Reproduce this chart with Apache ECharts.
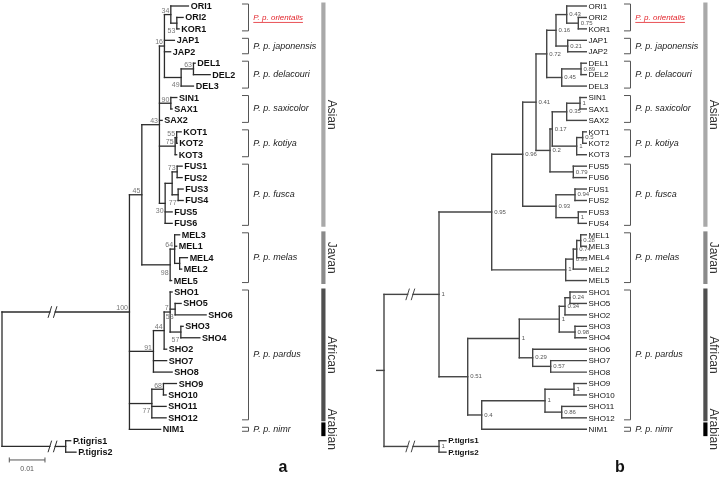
<!DOCTYPE html>
<html>
<head>
<meta charset="utf-8">
<script src="https://cdn.jsdelivr.net/npm/echarts@6/dist/echarts.min.js"></script>
<style>
html,body{margin:0;padding:0;background:#fff;}
#chart{width:719px;height:484px;}
</style>
</head>
<body>
<div id="chart"></div>
<script>
// ================= DATA =================
// Panel a: ML tree. Branch lengths in units of 0.001 substitutions/site, internal labels = bootstrap support.
const treeA_16 = "((ORI1:4.93,(ORI2:1.76,KOR1:0.64)53:1.68)34:1.79,JAP1:2.8,JAP2:1.74,((DEL1:0.48,DEL2:4.68)63:3.45,DEL3:3.45)49:4.68)16";
const treeA_91 = "(((SHO1:0.56,(SHO5:1.68,SHO6:8.68)53:1.40,(SHO3:0.64,SHO4:5.32)57:3.0)7:1.68,SHO2:0.70)44:3.0,SHO7:3.70,SHO8:5.24)91";
const treeA = "((((" + treeA_16 + ":1.40,(SIN1:1.68,SAX1:0.36)90:3.19,SAX2:0.76,((KOT1:1.26,KOT2:0.14)55:0.42,KOT3:0.42)75:4.40,(((FUS1:1.40,FUS2:1.40)73:1.40,(FUS3:1.40,FUS4:1.40)77:1.68):1.96,FUS5:1.96,FUS6:1.96)30:1.60)43:4.93,((MEL3:1.40,MEL1:0.56,(MEL4:2.18,MEL2:0.56):1.40)64:1.26,MEL5:0.42)98:7.93)45:3.47," + treeA_91 + ":6.72,((SHO9:3.64,SHO10:0.76)68:3.25,SHO11:4.0,SHO12:4.0)77:6.27,NIM1:8.74)100:35.7,(P.tigris1:1.40,P.tigris2:2.89):17.84);";
// bootstrap labels drawn below their branch (label@firstLeaf)
const belowA = ["53@ORI2", "49@DEL1", "30@FUS1", "77@FUS3", "98@MEL3", "53@SHO5", "57@SHO3", "77@SHO9"];

// Panel b: Bayesian tree (relative branch lengths), internal labels = posterior probabilities.
const treeB_072 = "(((ORI1:5.49,(ORI2:2.24,KOR1:2.24)0.75:3.25)0.43:3.0,(JAP1:5.21,JAP2:5.21)0.21:3.28)0.16:2.6,((DEL1:1.48,DEL2:1.48)0.89:5.41,DEL3:6.89)0.45:4.2)0.72";
const treeB_02 = "((((SIN1:1.76,SAX1:1.76)1:3.73,SAX2:5.49)0.35:4.03,((KOT1:1.01,KOT2:1.01)0.5:1.68,KOT3:2.69)1:6.83)0.17:0.64,(FUS5:3.64,FUS6:3.64)0.79:6.53)0.2";
const treeB_096 = "((" + treeB_072 + ":3.0," + treeB_02 + ":3.92)0.41:3.73,((FUS1:3.17,FUS2:3.17)0.94:5.32,(FUS3:2.24,FUS4:2.24)1:6.25)0.93:9.33)0.96";
const treeB_MEL = "((((MEL1:1.57,MEL3:1.57)0.28:1.12,MEL4:2.69)0.74:0.95,MEL2:3.64)0.93:2.13,MEL5:5.77)1";
const treeB_S1 = "((((SHO1:4.57,SHO5:4.57)0.24:1.4,SHO2:5.97)0.34:1.6,(SHO3:3.17,SHO4:3.17)0.98:4.4)1:11.2,(SHO6:15.01,(SHO7:9.97,SHO8:9.97)0.57:5.04)0.29:3.75)1";
const treeB_04 = "(((SHO9:3.45,SHO10:3.45)1:8.12,(SHO11:6.89,SHO12:6.89)0.86:4.68)1:17.73,NIM1:29.3)0.4";
const treeB = "(((" + treeB_096 + ":8.68," + treeB_MEL + ":20.73)0.95:14.76,(" + treeB_S1 + ":14.45," + treeB_04 + ":3.92)0.51:8.04)1:15.41,(P.tigris1:1.96,P.tigris2:1.96)1:15.41);";

// Subspecies groups (leaf-name prefixes) and geographic regions
const groupNames = ["P. p. orientalis", "P. p. japonensis", "P. p. delacouri", "P. p. saxicolor", "P. p. kotiya", "P. p. fusca", "P. p. melas", "P. p. pardus", "P. p. nimr"];
const groupPrefixes = [["ORI", "KOR"], ["JAP"], ["DEL"], ["SIN", "SAX"], ["KOT"], ["FUS"], ["MEL"], ["SHO"], ["NIM"]];
const regionNames = ["Asian", "Javan", "African", "Arabian"];
const regionGroups = [[0, 5], [6, 6], [7, 7], [8, 8]];
const scaleBarValue = 10;      // 0.01 in units of 0.001
const scaleBarLabel = "0.01";
const panelLetters = ["a", "b"];

// ================= STYLE / LAYOUT =================
const FONT = '"Liberation Sans", Arial, Helvetica, sans-serif';
const PX = 3.57;              // px per unit on the x scale
const ROW = 11.44;            // px per leaf row
const NLEAF = 40;
const regionColors = ["#a9a9a9", "#8a8a8a", "#4f4f4f", "#000000"];
const ANN = { br0: 240, br1: 246.5, lbl: 251.3, bar: 319.3, barW: 4.2, reg: 329 };

const measureCtx = document.createElement("canvas").getContext("2d");
function textWidth(t, font) { measureCtx.font = font; return measureCtx.measureText(t).width; }

function parseNewick(str) {
  const s = str.trim(); let i = 0;
  function node() {
    const n = { name: "", len: 0, children: [] };
    if (s[i] === "(") {
      i++;
      n.children.push(node());
      while (s[i] === ",") { i++; n.children.push(node()); }
      i++;
    }
    let name = "";
    while (i < s.length && ",():;".indexOf(s[i]) < 0) name += s[i++];
    n.name = name;
    if (s[i] === ":") {
      i++; let num = "";
      while (i < s.length && ",();".indexOf(s[i]) < 0) num += s[i++];
      n.len = parseFloat(num);
    }
    return n;
  }
  return node();
}
function layoutTree(root) {
  const leaves = [], nodes = [];
  (function walk(n, parent) {
    n.parent = parent;
    n.x = parent ? parent.x + n.len : 0;
    nodes.push(n);
    if (!n.children.length) { n.y = leaves.length; leaves.push(n); }
    else {
      n.children.forEach(c => walk(c, n));
      n.y = (n.children[0].y + n.children[n.children.length - 1].y) / 2;
    }
  })(root, null);
  return { root, leaves, nodes };
}
function firstLeaf(n) { while (n.children.length) n = n.children[0]; return n; }

function buildPanel(gi, treeStr, o) {
  const T = layoutTree(parseNewick(treeStr));
  const segs = [], breaks = [];
  T.nodes.forEach(n => {
    if (n.parent) {
      if (n.parent === T.root && o.breakAt != null) {
        segs.push([n.parent.x, n.y, o.breakAt - 0.75, n.y]);
        segs.push([o.breakAt + 0.75, n.y, n.x, n.y]);
        breaks.push([o.breakAt, n.y]);
      } else segs.push([n.parent.x, n.y, n.x, n.y]);
    }
    if (n.children.length) segs.push([n.x, n.children[0].y, n.x, n.children[n.children.length - 1].y]);
  });
  if (o.stub) segs.push([-o.stub, T.root.y, 0, T.root.y]);

  const series = [];
  series.push({
    type: "custom", xAxisIndex: gi, yAxisIndex: gi, silent: true, clip: false,
    encode: { x: [0, 2], y: [1, 3] }, data: segs,
    renderItem(params, api) {
      const a = api.coord([api.value(0), api.value(1)]);
      const b = api.coord([api.value(2), api.value(3)]);
      return { type: "line", shape: { x1: a[0], y1: a[1], x2: b[0], y2: b[1] },
        style: { stroke: o.lineColor, lineWidth: o.lineWidth, lineCap: "square" } };
    }
  });
  // break marks
  series.push({
    type: "custom", xAxisIndex: gi, yAxisIndex: gi, silent: true, clip: false, data: breaks,
    renderItem(params, api) {
      const ch = [];
      [-0.75, 0.75].forEach(d => {
        const p = api.coord([api.value(0) + d, api.value(1)]);
        ch.push({ type: "line", shape: { x1: p[0] - 1.8, y1: p[1] + 5.8, x2: p[0] + 1.8, y2: p[1] - 5.8 },
          style: { stroke: o.lineColor, lineWidth: 1 } });
      });
      return { type: "group", children: ch };
    }
  });
  // leaf labels
  const leafItems = T.leaves.map(l => ({ name: l.name, value: [l.x, l.y] }));
  series.push({
    type: "custom", xAxisIndex: gi, yAxisIndex: gi, silent: true, clip: false, data: leafItems,
    renderItem(params, api) {
      const p = api.coord([api.value(0), api.value(1)]);
      const nm = leafItems[params.dataIndex].name;
      const bold = o.leafBold || nm.indexOf("P.") === 0;
      const font = (bold ? "bold " : "") + o.leafSize + "px " + FONT;
      return { type: "text", x: p[0] + 2.2, y: p[1] + 0.5,
        style: { text: nm, font, fill: "#111", align: "left", verticalAlign: "middle", textAlign: "left", textVerticalAlign: "middle" } };
    }
  });
  // support labels
  const supItems = T.nodes.filter(n => n.children.length && n.parent && n.name !== "")
    .map(n => ({ name: n.name, value: [n.x, n.y], key: n.name + "@" + firstLeaf(n).name }));
  series.push({
    type: "custom", xAxisIndex: gi, yAxisIndex: gi, silent: true, clip: false, data: supItems,
    renderItem(params, api) {
      const p = api.coord([api.value(0), api.value(1)]);
      const it = supItems[params.dataIndex];
      let x, y, al;
      if (o.supportSide === "left") {
        x = p[0] - 1.5; al = "right";
        y = p[1] + ((o.below || []).indexOf(it.key) >= 0 ? 8 : -3.6);
      } else { x = p[0] + 2.5; y = p[1]; al = "left"; }
      return { type: "text", x, y,
        style: { text: it.name, font: o.supSize + "px " + FONT, fill: o.supColor, align: al, verticalAlign: "middle", textAlign: al, textVerticalAlign: "middle" } };
    }
  });
  // groups (brackets + names)
  const gData = groupPrefixes.map(pre => {
    const idx = T.leaves.map((l, i) => pre.some(p => l.name.indexOf(p) === 0) ? i : -1).filter(i => i >= 0);
    return [Math.min(...idx), Math.max(...idx)];
  });
  series.push({
    type: "custom", xAxisIndex: gi, yAxisIndex: gi, silent: true, clip: false, data: gData,
    renderItem(params, api) {
      const cs = params.coordSys; const i = params.dataIndex;
      const y1 = api.coord([0, api.value(0)])[1] - 2;
      const y2 = api.coord([0, api.value(1)])[1] + 2;
      const x0 = cs.x + ANN.br0, x1 = cs.x + ANN.br1;
      const red = i === 0;
      const font = "italic " + (red ? 8 : 9) + "px " + FONT;
      const fill = red ? "#e3262d" : "#222";
      const ty = (y1 + y2) / 2;
      const lx = cs.x + ANN.lbl;
      const ch = [
        { type: "polyline", shape: { points: [[x0, y1], [x1, y1], [x1, y2], [x0, y2]] }, style: { stroke: "#555", lineWidth: 1, fill: "none" } },
        { type: "text", x: lx, y: ty, style: { text: groupNames[i], font, fill, align: "left", verticalAlign: "middle", textAlign: "left", textVerticalAlign: "middle" } }
      ];
      if (red) {
        const w = textWidth(groupNames[i], font);
        ch.push({ type: "line", shape: { x1: lx, y1: ty + 5, x2: lx + w, y2: ty + 5 }, style: { stroke: fill, lineWidth: 0.8 } });
      }
      return { type: "group", children: ch };
    }
  });
  // regions (bars + rotated names)
  const rData = regionGroups.map(g => [gData[g[0]][0], gData[g[1]][1]]);
  series.push({
    type: "custom", xAxisIndex: gi, yAxisIndex: gi, silent: true, clip: false, data: rData,
    renderItem(params, api) {
      const cs = params.coordSys; const i = params.dataIndex;
      const single = api.value(0) === api.value(1);
      const pad = single ? 0.6 : 0.3;
      const y1 = api.coord([0, api.value(0) - pad])[1];
      const y2 = api.coord([0, api.value(1) + pad])[1];
      const centre = (api.coord([0, api.value(0)])[1] + api.coord([0, api.value(1)])[1]) / 2;
      return { type: "group", children: [
        { type: "rect", shape: { x: cs.x + ANN.bar, y: y1, width: ANN.barW, height: y2 - y1 }, style: { fill: regionColors[i] } },
        { type: "text", x: cs.x + ANN.reg, y: centre, rotation: -Math.PI / 2,
          style: { text: regionNames[i], font: "12px " + FONT, fill: "#333", align: "center", verticalAlign: "middle", textAlign: "center", textVerticalAlign: "middle" } }
      ] };
    }
  });
  if (o.scaleBar) {
    series.push({
      type: "custom", xAxisIndex: gi, yAxisIndex: gi, silent: true, clip: false,
      data: [[o.scaleBar, o.scaleBar + scaleBarValue, NLEAF - 1]],
      renderItem(params, api) {
        const a = api.coord([api.value(0), api.value(2)]);
        const b = api.coord([api.value(1), api.value(2)]);
        const y = a[1] + 7.8;
        const st = { stroke: "#555", lineWidth: 1 };
        return { type: "group", children: [
          { type: "line", shape: { x1: a[0], y1: y, x2: b[0], y2: y }, style: st },
          { type: "line", shape: { x1: a[0], y1: y - 2.5, x2: a[0], y2: y + 2.5 }, style: st },
          { type: "line", shape: { x1: b[0], y1: y - 2.5, x2: b[0], y2: y + 2.5 }, style: st },
          { type: "text", x: (a[0] + b[0]) / 2, y: y + 9.5, style: { text: scaleBarLabel, font: "7px " + FONT, fill: "#555", align: "center", verticalAlign: "middle", textAlign: "center", textVerticalAlign: "middle" } }
        ] };
      }
    });
  }
  return series;
}

const gridA = { left: 2, width: 357 };
const gridB = { left: 384, width: 334 };
const seriesA = buildPanel(0, treeA, { lineColor: "#2b2b2b", lineWidth: 1.3, breakAt: 14.15, leafBold: true, leafSize: 9,
  supportSide: "left", supSize: 7, supColor: "#777", below: belowA, scaleBar: 2.04 });
const seriesB = buildPanel(1, treeB, { lineColor: "#444", lineWidth: 1.4, breakAt: 7.37, stub: 2.05, leafBold: false, leafSize: 8,
  supportSide: "right", supSize: 6, supColor: "#555" });

const chart = echarts.init(document.getElementById("chart"), null, { renderer: "canvas" });
chart.setOption({
  animation: false,
  backgroundColor: "#fff",
  grid: [
    { left: gridA.left, top: 6, width: gridA.width, height: ROW * (NLEAF - 1), outerBoundsMode: "none" },
    { left: gridB.left, top: 6, width: gridB.width, height: ROW * (NLEAF - 1), outerBoundsMode: "none" }
  ],
  xAxis: [
    { gridIndex: 0, type: "value", min: 0, max: gridA.width / PX, show: false },
    { gridIndex: 1, type: "value", min: 0, max: gridB.width / PX, show: false }
  ],
  yAxis: [
    { gridIndex: 0, type: "value", min: 0, max: NLEAF - 1, inverse: true, show: false },
    { gridIndex: 1, type: "value", min: 0, max: NLEAF - 1, inverse: true, show: false }
  ],
  graphic: [
    { type: "text", x: 283, y: 468, style: { text: panelLetters[0], font: "bold 16px " + FONT, fill: "#111", align: "center", verticalAlign: "middle", textAlign: "center", textVerticalAlign: "middle" } },
    { type: "text", x: 620, y: 468, style: { text: panelLetters[1], font: "bold 16px " + FONT, fill: "#111", align: "center", verticalAlign: "middle", textAlign: "center", textVerticalAlign: "middle" } }
  ],
  series: seriesA.concat(seriesB)
});
</script>
</body>
</html>
